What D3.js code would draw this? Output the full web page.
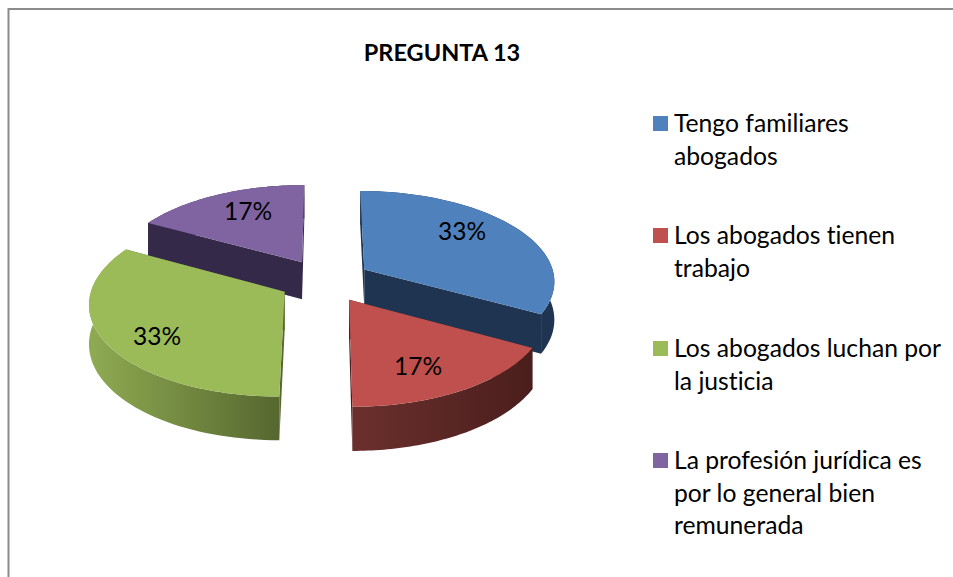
<!DOCTYPE html>
<html><head><meta charset="utf-8">
<script src="https://cdn.jsdelivr.net/npm/d3@7"></script>
<style>html,body{margin:0;padding:0;background:#fff}svg{display:block}text{font-family:Lato,"Open Sans",sans-serif;fill:#000;font-variant-ligatures:none}</style>
</head><body><svg id="c" width="953" height="577"></svg>
<script>
const title = "PREGUNTA 13";
const categories = ["Tengo familiares abogados","Los abogados tienen trabajo","Los abogados luchan por la justicia","La profesión jurídica es por lo general bien remunerada"];
const legendLines = [["Tengo familiares","abogados"],["Los abogados tienen","trabajo"],["Los abogados luchan por","la justicia"],["La profesión jurídica es","por lo general bien","remunerada"]];
const values = [33,17,33,17];
const labels = ["33%","17%","33%","17%"];
const topColors = ["#4f81bd","#c0504d","#9bbb59","#8064a2"];
const wallStops = [["#1f3450","#1f3450"],["#6b302d","#4a1e1c"],["#8fab52","#56672f"],["#35294a","#35294a"]];
const legendBase = [132,244,357,469];
const labelPos = [[462,240],[418,375],[157,345],[248,220]];

const svg = d3.select("#c");
const defs = svg.append("defs");
const pie = d3.pie().sort(null).value(d=>d).startAngle(0).endAngle(2*Math.PI);
const arcs = pie(values);

const sx = d3.scaleLinear().domain([-1,1]).range([325-191,325+191]);
const sy = d3.scaleLinear().domain([-1,1]).range([280.5+90,280.5-90]);
const persp = 0.115, lean = 0, explode = 0.242, depth = 38;
function project(X,Y,drop){
  const w = 1 + persp*Y + lean*X;
  return [sx(X/w), sy(Y/w) + (drop||0)/w];
}
const line = d3.line();
function parts(a){
  const mid = (a.startAngle+a.endAngle)/2;
  const ox = explode*Math.sin(mid), oy = explode*Math.cos(mid);
  const thetas = d3.range(0,61).map(i=>a.startAngle+(a.endAngle-a.startAngle)*i/60);
  const rim = drop => thetas.map(t=>project(ox+Math.sin(t),oy+Math.cos(t),drop));
  const apex = drop => project(ox,oy,drop);
  return {rim,apex};
}
// paint order: back slices first
const order = [3,0,2,1];
order.forEach(i=>{
  const p = parts(arcs[i]);
  const g = svg.append("g");
  const topRim = p.rim(0), botRim = p.rim(depth);
  const xs = topRim.map(d=>d[0]);
  const id = "w"+i;
  const lg = defs.append("linearGradient").attr("id",id).attr("gradientUnits","userSpaceOnUse")
    .attr("x1",d3.min(xs)).attr("x2",d3.max(xs)).attr("y1",0).attr("y2",0);
  lg.append("stop").attr("offset",0).attr("stop-color",wallStops[i][0]);
  lg.append("stop").attr("offset",1).attr("stop-color",wallStops[i][1]);
  const dark = wallStops[i][1];
  // radial walls
  [topRim[0],topRim[topRim.length-1]].forEach((pt,k)=>{
    const b = k? botRim[botRim.length-1]:botRim[0];
    g.append("path").attr("d",line([p.apex(0),pt,b,p.apex(depth)])+"Z").attr("fill",dark);
  });
  // outer wall
  g.append("path").attr("d",line(topRim.concat(botRim.slice().reverse()))+"Z").attr("fill",`url(#${id})`);
  // top face
  g.append("path").attr("d",line([p.apex(0)].concat(topRim))+"Z").attr("fill",topColors[i]);
});
labels.forEach((t,i)=>{
  svg.append("text").attr("x",labelPos[i][0]).attr("y",labelPos[i][1]).attr("text-anchor","middle")
    .attr("font-size",24.5).text(t);
});
svg.append("text").attr("x",442).attr("y",61).attr("text-anchor","middle")
  .attr("font-size",23.5).attr("font-weight",700).text(title);
legendLines.forEach((ls,i)=>{
  svg.append("rect").attr("x",653).attr("y",legendBase[i]-16).attr("width",15).attr("height",15).attr("fill",topColors[i]);
  ls.forEach((s,j)=>{
    svg.append("text").attr("x",674).attr("y",legendBase[i]+j*32.5).attr("font-size",24.7).text(s);
  });
});
// chart frame
svg.append("path").attr("d",d3.line()([[8.5,577],[8.5,9],[953,9]])).attr("fill","none").attr("stroke","#8c8c8c").attr("stroke-width",2);
</script></body></html>
